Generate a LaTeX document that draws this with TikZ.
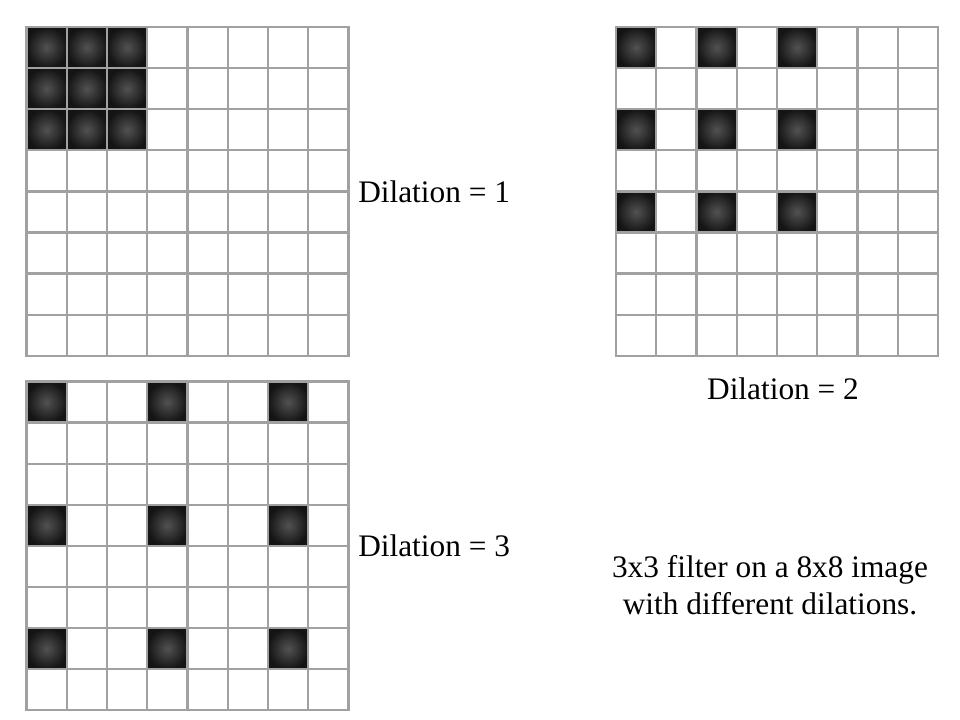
\documentclass[tikz,border=0pt]{standalone}
\usepackage{fontspec}
\setmainfont{Liberation Serif}
\begin{document}
\begin{tikzpicture}[x=0.75pt,y=-0.75pt,
  gridline/.style={draw=black!37,line width=1.7pt,line cap=rect},
  cellshade/.style={inner color=black!68,outer color=black!92},
  lbl/.style={inner sep=0pt,font=\fontsize{23.5}{28}\selectfont}]
\useasboundingbox (0,0) rectangle (960,720);
\def\cw{40.25}
\def\ch{41.1}
% --- dark cells ---
% grid 1 (dilation 1)
\foreach \c in {0,1,2} \foreach \r in {0,1,2}
  \shade[cellshade] ({26.5+\c*\cw},{27+\r*\ch}) rectangle ++(\cw,\ch);
% grid 2 (dilation 2)
\foreach \c in {0,2,4} \foreach \r in {0,2,4}
  \shade[cellshade] ({616+\c*\cw},{27+\r*\ch}) rectangle ++(\cw,\ch);
% grid 3 (dilation 3)
\foreach \c in {0,3,6} \foreach \r in {0,3,6}
  \shade[cellshade] ({26.5+\c*\cw},{381.5+\r*\ch}) rectangle ++(\cw,\ch);
% --- grids ---
\foreach \gx/\gy in {26.5/27, 616/27, 26.5/381.5}
  \foreach \i in {0,...,8} {
    \draw[gridline] ({\gx+\i*\cw},\gy) -- ++(0,{8*\ch});
    \draw[gridline] (\gx,{\gy+\i*\ch}) -- ++({8*\cw},0);
  }
% --- labels ---
\node[lbl,anchor=base west] (d1) at (358,203) {Dilation = 1};
\node[lbl,anchor=base] (d2) at (783,399.5) {Dilation = 2};
\node[lbl,anchor=base west] (d3) at (358,556.7) {Dilation = 3};
\node[lbl,anchor=base] (cap1) at (770,577) {3x3 filter on a 8x8 image};
\node[lbl,anchor=base] (cap2) at (770,614) {with different dilations.};
\end{tikzpicture}
\end{document}
